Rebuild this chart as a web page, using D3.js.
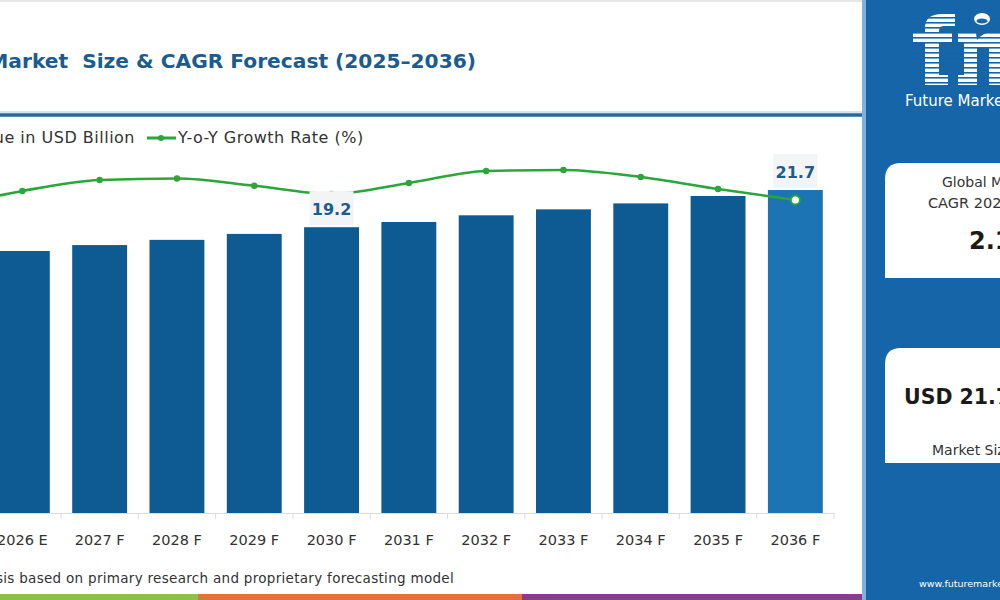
<!DOCTYPE html>
<html lang="en">
<head>
<meta charset="UTF-8">
<title>Market Size & CAGR Forecast</title>
<script src="https://cdn.jsdelivr.net/npm/d3@7"></script>
<style>
  body { margin: 0; background: #fff; }
  svg { display: block; font-family: "DejaVu Sans", sans-serif; }
</style>
</head>
<body>
<div id="chart"></div>
<script>
// chart data
var years = ["2025", "2026 E", "2027 F", "2028 F", "2029 F", "2030 F", "2031 F", "2032 F", "2033 F", "2034 F", "2035 F", "2036 F"];
var marketValue = [17.25, 17.6, 18.0, 18.35, 18.75, 19.2, 19.55, 20.0, 20.4, 20.8, 21.3, 21.7];
var growthRate = [2.02, 2.19, 2.30, 2.315, 2.243, 2.16, 2.27, 2.39, 2.40, 2.33, 2.21, 2.10];
var labelledYears = ["2030 F", "2036 F"];
var stripColors = ["#8cc04b", "#e4703d", "#8b3a92"];

var w = 1000, h = 600;
var baseY = 513;

var svg = d3.select("#chart").append("svg")
  .attr("width", w)
  .attr("height", h);

svg.append("rect").attr("width", w).attr("height", h).attr("fill", "#fff");

// top faint border
svg.append("line").attr("x1", 0).attr("x2", 862).attr("y1", 1).attr("y2", 1)
  .attr("stroke", "#e8e8e8").attr("stroke-width", 2);

// title (starts off the left edge)
svg.append("text")
  .attr("x", 476).attr("y", 68)
  .attr("text-anchor", "end")
  .attr("font-size", 20.2)
  .attr("font-weight", "bold")
  .attr("fill", "#1b5c90")
  .style("white-space", "pre")
  .text("Industrial Market  Size & CAGR Forecast (2025\u20132036)");

// separator under title
svg.append("line").attr("x1", 0).attr("x2", 862).attr("y1", 112).attr("y2", 112)
  .attr("stroke", "#a9cde9").attr("stroke-width", 1);
svg.append("line").attr("x1", 0).attr("x2", 862).attr("y1", 115).attr("y2", 115)
  .attr("stroke", "#1f6aa5").attr("stroke-width", 3.5);

// scales
var x = d3.scaleBand()
  .domain(years)
  .range([834 - years.length * 77.3, 834])
  .paddingInner(0.29)
  .paddingOuter(0.145);

var y = d3.scaleLinear()
  .domain([0, 21.7])
  .range([baseY, 190]);

var yRate = d3.scaleLinear()
  .domain([1.8, 2.4])
  .range([230, 170]);

// legend
var legend = svg.append("g").attr("font-size", 16).attr("letter-spacing", 0.5).attr("fill", "#333");
legend.append("rect").attr("x", -60).attr("y", 130).attr("width", 14).attr("height", 14).attr("fill", "#0e5a92");
legend.append("text").attr("x", 135).attr("y", 143).attr("text-anchor", "end").text("Value in USD Billion");
legend.append("line").attr("x1", 147).attr("x2", 176).attr("y1", 138).attr("y2", 138)
  .attr("stroke", "#2aa63a").attr("stroke-width", 3);
legend.append("circle").attr("cx", 161).attr("cy", 138).attr("r", 3).attr("fill", "#2aa63a");
legend.append("text").attr("x", 178).attr("y", 143).text("Y-o-Y Growth Rate (%)");

// bars
svg.selectAll("rect.bar")
  .data(years)
  .enter()
  .append("rect")
  .attr("class", "bar")
  .attr("x", function(d) { return x(d); })
  .attr("width", x.bandwidth())
  .attr("y", function(d, i) { return y(marketValue[i]); })
  .attr("height", function(d, i) { return baseY - y(marketValue[i]); })
  .attr("fill", function(d, i) { return i === years.length - 1 ? "#1c74b5" : "#0e5a92"; });

// x axis
var axis = svg.append("g")
  .attr("transform", "translate(0," + baseY + ")")
  .call(d3.axisBottom(x).tickSize(0).tickPadding(22));
axis.select(".domain").attr("stroke", "#dcdcdc");
axis.selectAll("text")
  .attr("font-size", 14.5)
  .attr("fill", "#333")
  .attr("font-family", "DejaVu Sans, sans-serif");

// boundary ticks between categories
axis.selectAll("line.bound")
  .data(years)
  .enter()
  .append("line")
  .attr("class", "bound")
  .attr("x1", function(d) { return x(d) + x.bandwidth() + x.step() * 0.145; })
  .attr("x2", function(d) { return x(d) + x.bandwidth() + x.step() * 0.145; })
  .attr("y1", 0).attr("y2", 6)
  .attr("stroke", "#dcdcdc");

// growth line
var cx = function(d, i) { return x(years[i]) + x.bandwidth() / 2; };
var line = d3.line()
  .x(cx)
  .y(function(d) { return yRate(d); })
  .curve(d3.curveMonotoneX);

svg.append("path")
  .datum(growthRate)
  .attr("d", line)
  .attr("fill", "none")
  .attr("stroke", "#2aa63a")
  .attr("stroke-width", 2.6);

svg.selectAll("circle.pt")
  .data(growthRate)
  .enter()
  .append("circle")
  .attr("class", "pt")
  .attr("cx", cx)
  .attr("cy", function(d) { return yRate(d); })
  .attr("r", function(d, i) { return i === growthRate.length - 1 ? 4.5 : 3.2; })
  .attr("fill", function(d, i) { return i === growthRate.length - 1 ? "#fff" : "#2aa63a"; })
  .attr("stroke", "#2aa63a")
  .attr("stroke-width", function(d, i) { return i === growthRate.length - 1 ? 1.8 : 0; });

// value labels with light boxes
labelledYears.forEach(function(yr) {
  var i = years.indexOf(yr);
  var top = y(marketValue[i]);
  var mid = x(yr) + x.bandwidth() / 2;
  svg.append("rect")
    .attr("x", mid - 22).attr("y", top - 36)
    .attr("width", 44).attr("height", 34)
    .attr("fill", "#f3f4f6");
  svg.append("text")
    .attr("x", mid).attr("y", top - 12)
    .attr("text-anchor", "middle")
    .attr("font-size", 16)
    .attr("font-weight", "bold")
    .attr("fill", "#1b5c90")
    .text(marketValue[i]);
});

// source note
svg.append("text")
  .attr("x", 454).attr("y", 583)
  .attr("text-anchor", "end")
  .attr("font-size", 13.5)
  .attr("letter-spacing", 0.3)
  .attr("fill", "#333")
  .text("Source: FMI analysis based on primary research and proprietary forecasting model");

// bottom colour strip
var stripX = [0, 198, 522, 863];
stripColors.forEach(function(c, i) {
  svg.append("rect")
    .attr("x", stripX[i]).attr("y", 594)
    .attr("width", stripX[i + 1] - stripX[i]).attr("height", 6)
    .attr("fill", c);
});

// right panel
var panel = svg.append("g");
panel.append("rect").attr("x", 862).attr("y", 0).attr("width", 4).attr("height", h).attr("fill", "#7fb2dc");
panel.append("rect").attr("x", 866).attr("y", 0).attr("width", 134).attr("height", h).attr("fill", "#1565a8");

// logo: striped letter shapes
var logo = panel.append("g").attr("fill", "#fff");
// f
logo.append("path").attr("d", "M925,85 L925,42 L913,42 L913,33 L925,33 L925,28 Q925,14 942,14 L955,14 L955,26 L944,26 Q939,26 939,31 L939,33 L952,33 L952,42 L939,42 L939,75 L948,75 L948,85 Z");
// n / m stem
logo.append("path").attr("d", "M958,85 L958,75 L964,75 L964,42 L958,42 L958,33 L976,33 L977,40 Q984,31 995,32 Q1010,34 1010,50 L1010,85 Z");
logo.append("rect").attr("x", 977).attr("y", 47).attr("width", 12).attr("height", 40).attr("fill", "#1565a8");
d3.range(17, 88, 5).forEach(function(sy) {
  logo.append("rect").attr("x", 905).attr("y", sy).attr("width", 95).attr("height", 1.6).attr("fill", "#1565a8");
});
panel.append("ellipse").attr("cx", 982).attr("cy", 19).attr("rx", 8).attr("ry", 6).attr("fill", "#fff");
panel.append("ellipse").attr("cx", 982).attr("cy", 21).attr("rx", 5.5).attr("ry", 2.5).attr("fill", "#1565a8");
panel.append("text").attr("x", 905).attr("y", 106)
  .attr("font-size", 15).attr("fill", "#fff").text("Future Market Insights");

// white info boxes, rounded top-left corner
function infoBox(top) {
  panel.append("path")
    .attr("d", "M885," + (top + 115) + " L885," + (top + 16) + " Q885," + top + " 901," + top + " L1000," + top + " L1000," + (top + 115) + " Z")
    .attr("fill", "#fff");
}
infoBox(163);
infoBox(348);

panel.append("text").attr("x", 942).attr("y", 187).attr("font-size", 14).attr("fill", "#333").text("Global Market");
panel.append("text").attr("x", 928).attr("y", 208).attr("font-size", 14.5).attr("fill", "#333").text("CAGR 2026-2036");
panel.append("text").attr("x", 969).attr("y", 249).attr("font-size", 24).attr("font-weight", "bold").attr("fill", "#1a1a1a").text("2.1%");
panel.append("text").attr("x", 904).attr("y", 404).attr("font-size", 20.5).attr("font-weight", "bold").attr("fill", "#1a1a1a").text("USD 21.7 Billion");
panel.append("text").attr("x", 932).attr("y", 455).attr("font-size", 14).attr("fill", "#333").text("Market Size 2036");
panel.append("text").attr("x", 919).attr("y", 587).attr("font-size", 9.5).attr("fill", "#fff").text("www.futuremarketinsights.com");
</script>
</body>
</html>
